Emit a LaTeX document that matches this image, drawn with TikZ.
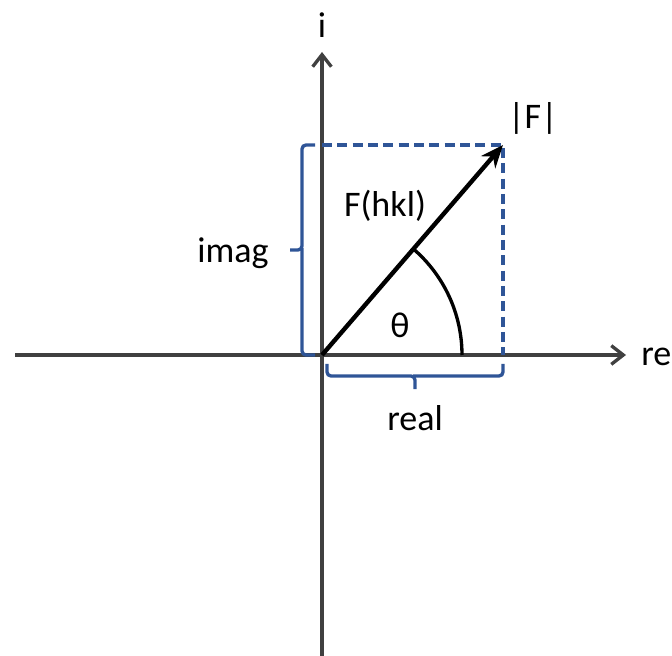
\documentclass[tikz,border=0pt]{standalone}
\usepackage{fontspec}
\setmainfont{Carlito}
\usetikzlibrary{arrows.meta}
\definecolor{axisgray}{HTML}{404040}
\definecolor{dblue}{HTML}{2F5597}
\begin{document}
\begin{tikzpicture}[x=0.75pt,y=-0.75pt,
  axis/.style={draw=axisgray,line width=2.5pt,-{Straight Barb[length=9pt,width=14pt,line width=2.5pt]}},
  dashbox/.style={draw=dblue,line width=2.5pt,dash pattern=on 7.5pt off 4pt},
  bracepath/.style={draw=dblue,line width=2.5pt,rounded corners=3pt},
  vec/.style={draw=black,line width=3.3pt,-{Stealth[length=17pt,width=14pt]}},
  arcline/.style={draw=black,line width=2.5pt},
  lbl/.style={font=\fontsize{27}{32}\selectfont,inner sep=0pt}]
\useasboundingbox (0,0) rectangle (672,656);
\coordinate (O) at (322,355);
\coordinate (P) at (503,145);
\coordinate (ytop) at (322,52);
\coordinate (ybot) at (322,660);
\coordinate (xl) at (15,355);
\coordinate (xr) at (626,355);
\coordinate (C) at (322,145);
\coordinate (D) at (503,355);
% axes
\draw[axis] (xl) -- (xr);
\draw[axis] (ybot) -- (ytop);
% dashed box
\draw[dashbox] (C) -- (P) -- (D);
% arc
\draw[arcline] (462,355) arc[start angle=0,end angle=49.2,radius=140*0.75pt];
% vector
\draw[vec] (O) -- (P);
% left brace
\draw[bracepath] (315,145) -- (302,145) -- (302,250) -- (290,250);
\draw[bracepath] (302,248) -- (302,355) -- (315,355);
% bottom brace
\draw[bracepath] (327,364) -- (327,376) -- (415,376) -- (415,389);
\draw[bracepath] (413,376) -- (503,376) -- (503,364);
% labels
\node[lbl] (li) at (322,25) {i};
\node[lbl,anchor=west] (lre) at (641,357) {re};
\node[lbl] (lF) at (533,118) {|F|};
\node[lbl] (lFhkl) at (385,206) {F(hkl)};
\node[lbl] (limag) at (233,253) {imag};
\node[lbl] (lreal) at (415,418) {real};
\node[lbl] (ltheta) at (400,325) {θ};
\end{tikzpicture}
\end{document}
